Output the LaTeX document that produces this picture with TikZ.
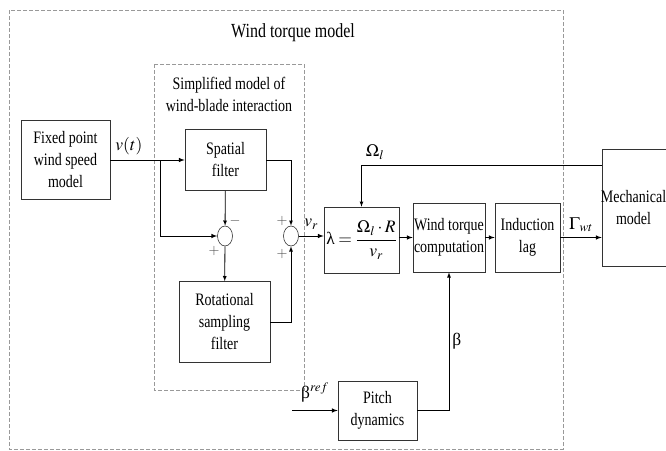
\documentclass[tikz,border=0pt]{standalone}
\usepackage{mathptmx}
\usepackage[no-math]{fontspec}
\setmainfont{Liberation Serif}[FakeStretch=0.8]
\newfontfamily\grk{Liberation Serif}
\usetikzlibrary{shapes.geometric}

\tikzset{>=latex}

\begin{document}
\begin{tikzpicture}[x=1pt,y=-1pt]
	\tikzstyle{block} = [draw=black!80, line width=0.6pt, align=center, inner sep=1pt, font=\fontsize{17.5}{22}\selectfont]
	\tikzstyle{sum} = [ellipse, draw=black!80, line width=0.6pt, minimum width=15pt, minimum height=20pt, inner sep=0pt]
	\tikzstyle{frame} = [draw=black!40, line width=0.8pt, dash pattern=on 4pt off 2pt]
	\tikzstyle{signal} = [->, line width=1pt]
	\tikzstyle{lbl} = [font=\fontsize{17.5}{22}\selectfont, inner sep=0pt]
	\tikzstyle{sgn} = [font=\fontsize{14}{14}\selectfont, text=black!70, inner sep=0pt]

	\clip (0,0) rectangle (666,450);
	\useasboundingbox (0,0) rectangle (666,450);

%----------Frames------------------------------
	\draw[frame] (9,10) rectangle (563,449);
	\draw[frame] (154,64) rectangle (304,390);
	\node[lbl, font=\fontsize{20}{24}\selectfont] (title) at (293,33) {Wind torque model};
	\node[lbl, align=center] (subtitle) at (229,94) {Simplified model of\\wind-blade interaction};

%----------Wind-blade interaction------------------------------
	\node[block, minimum width=89pt, minimum height=79pt] (fixed) at (65.5,160) {Fixed point\\wind speed\\model};
	\node[block, minimum width=81pt, minimum height=61pt] (spatial) at (225.5,160) {Spatial\\filter};
	\node[block, minimum width=91pt, minimum height=81pt] (rot) at (224.5,322) {Rotational\\sampling\\filter};
	\node[sum] (s1) at (225,236) {};
	\node[sum] (s2) at (291,236) {};
	\coordinate (br) at (160,160);

	\draw[signal] (fixed) -- (spatial) node[lbl, pos=0.25, above=5pt] {$v(t)$};
	\draw[signal] (br) |- (s1);
	\draw[->, line width=0.8pt] (spatial) -- (s1);
	\draw[->, line width=0.8pt] (s1) -- (rot);
	\draw[->, line width=0.8pt] (spatial.east) -| (s2.north);
	\draw[->, line width=0.8pt] (rot.east) -| (s2.south);

	\node[sgn] at (235,221) {$-$};
	\node[sgn] at (214,251) {$+$};
	\node[sgn] at (282,221) {$+$};
	\node[sgn] at (282,254) {$+$};

%----------Torque computation------------------------------
	\node[block, minimum width=75pt, minimum height=66pt] (lam) at (361.5,240) {{\grk λ} $= \displaystyle\frac{\Omega_l\cdot R}{v_r}$};
	\node[block, minimum width=72pt, minimum height=69pt] (wtc) at (449,237.5) {Wind torque\\computation};
	\node[block, minimum width=65pt, minimum height=69pt] (lag) at (527.5,237.5) {Induction\\lag};
	\node[block, minimum width=76pt, minimum height=117pt] (mech) at (640,207.5) {};
	\node[lbl, align=center] (mechtxt) at (633.5,207.5) {Mechanical\\model};
	\node[block, minimum width=79pt, minimum height=59pt] (pitch) at (377.5,410.5) {Pitch\\dynamics};
	\coordinate (bref) at (292,410.5);

	\draw[signal] (s2) -- (s2 -| lam.west) node[lbl, pos=0.5, above=6pt] {$v_r$};
	\draw[signal] (lam.east |- wtc) -- (wtc);
	\draw[signal] (wtc) -- (lag);
	\draw[signal] (lag) -- (lag -| mech.west) node[lbl, pos=0.5, above=5pt] {$\Gamma_{wt}$};
	\draw[->, line width=0.8pt] ([yshift=-17pt]mech.north west) -| (lam.north);
	\node[lbl] (omega) at (375,152) {$\Omega_l$};
	\draw[->, line width=0.8pt] (pitch.east) -| (wtc.south) node[lbl, pos=0.75, right=3pt] {\grk β};
	\draw[signal] (bref) -- (pitch) node[lbl, pos=0.5, above=8pt] {{\grk β}$^{ref}$};

\end{tikzpicture}
\end{document}
